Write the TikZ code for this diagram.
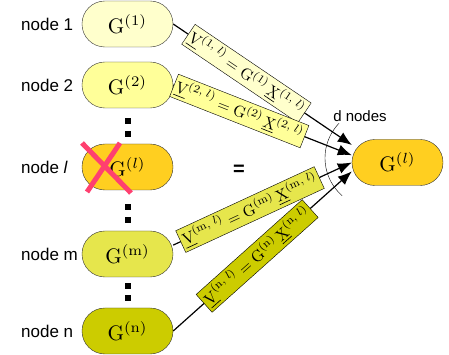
\documentclass[tikz,border=0pt]{standalone}
\usepackage{graphicx}
\usepackage{fontspec}
\setsansfont{Liberation Sans}
\usetikzlibrary{arrows.meta,positioning}
\definecolor{gone}{RGB}{255,255,204}
\definecolor{gtwo}{RGB}{255,255,153}
\definecolor{gell}{RGB}{255,207,32}
\definecolor{gem}{RGB}{230,230,76}
\definecolor{gen}{RGB}{204,204,0}
\definecolor{crossred}{RGB}{255,64,112}
\newcommand{\gmat}[1]{\scalebox{2.1}{$\mathrm{G}^{(#1)}$}}
\newcommand{\vmsg}[1]{\scalebox{1.6}{$\underline{\mathrm{V}}^{(#1,\;l)} = \mathrm{G}^{(#1)}\,\underline{\mathrm{X}}^{(#1,\;l)}$}}
\tikzset{
  gnode/.style={
    rectangle,
    rounded corners=22.9pt,
    draw=black!80,
    thin,
    minimum width=91pt,
    minimum height=46pt,
    inner sep=0pt
  },
  nodename/.style={
    anchor=west,
    inner sep=0pt,
    font=\sffamily\fontsize{17}{20}\selectfont
  },
  eqbox/.style={
    rectangle,
    draw=black,
    thin,
    sloped,
    inner sep=2.5pt
  },
  eqarrow/.style={
    -{Latex[length=14pt,width=11pt]},
    line width=1.2pt,
    draw=black
  },
  crossline/.style={
    draw=crossred,
    line width=5pt
  }
}

\begin{document}
\begin{tikzpicture}[x=1pt,y=1pt]
\useasboundingbox (0,0) rectangle (449,355);
% source nodes
\node[gnode, fill=gone] (g1) at (127.5,331) {\gmat{1}};
\node[gnode, fill=gtwo] (g2) at (127.5,270) {\gmat{2}};
\node[gnode, fill=gell] (gl) at (127.5,188) {\gmat{l}};
\node[gnode, fill=gem] (gm) at (127.5,101) {\gmat{\mathrm{m}}};
\node[gnode, fill=gen] (gn) at (127.5,24) {\gmat{\mathrm{n}}};
\node[gnode, fill=gell] (gt) at (397.5,192.5) {\gmat{l}};

\node[nodename] (name1) at (21,331) {node 1};
\node[nodename] (name2) at (21,270) {node 2};
\node[nodename] (namel) at (21,188) {node \textit{l}};
\node[nodename] (namem) at (21,101) {node m};
\node[nodename] (namen) at (21,24) {node n};

% vertical dots
\foreach \y in {234,221,148,135,69,57}
  \fill (124.5,\y-3) rectangle ++(6,6);

% removed node
\draw[crossline] (82,212) -- (131,162);
\draw[crossline] (120,212) -- (87,163);

\node[font=\sffamily\bfseries\fontsize{20}{22}\selectfont] (eq) at (239,185) {=};

% messages
\draw[eqarrow] (g1.east) -- node[eqbox, fill=gone, pos=0.41] (v1) {\vmsg{1}} (gt.159);
\draw[eqarrow] (g2.east) -- node[eqbox, fill=gtwo, pos=0.37] (v2) {\vmsg{2}} (gt.171);
\draw[eqarrow] (gm.11) -- node[eqbox, fill=gem, pos=0.43] (vm) {\vmsg{\mathrm{m}}} (gt.180);
\draw[eqarrow] (gn.east) -- node[eqbox, fill=gen, pos=0.47] (vn) {\vmsg{\mathrm{n}}} (gt.191);

% fan-in arc
\coordinate (fan) at (375,197);
\draw[thin] ([shift={(136:50pt)}]fan) arc[start angle=136, end angle=229, radius=50pt];
\node[font=\sffamily\fontsize{15}{17}\selectfont] (dlabel) at (360,239) {d nodes};
\end{tikzpicture}
\end{document}
